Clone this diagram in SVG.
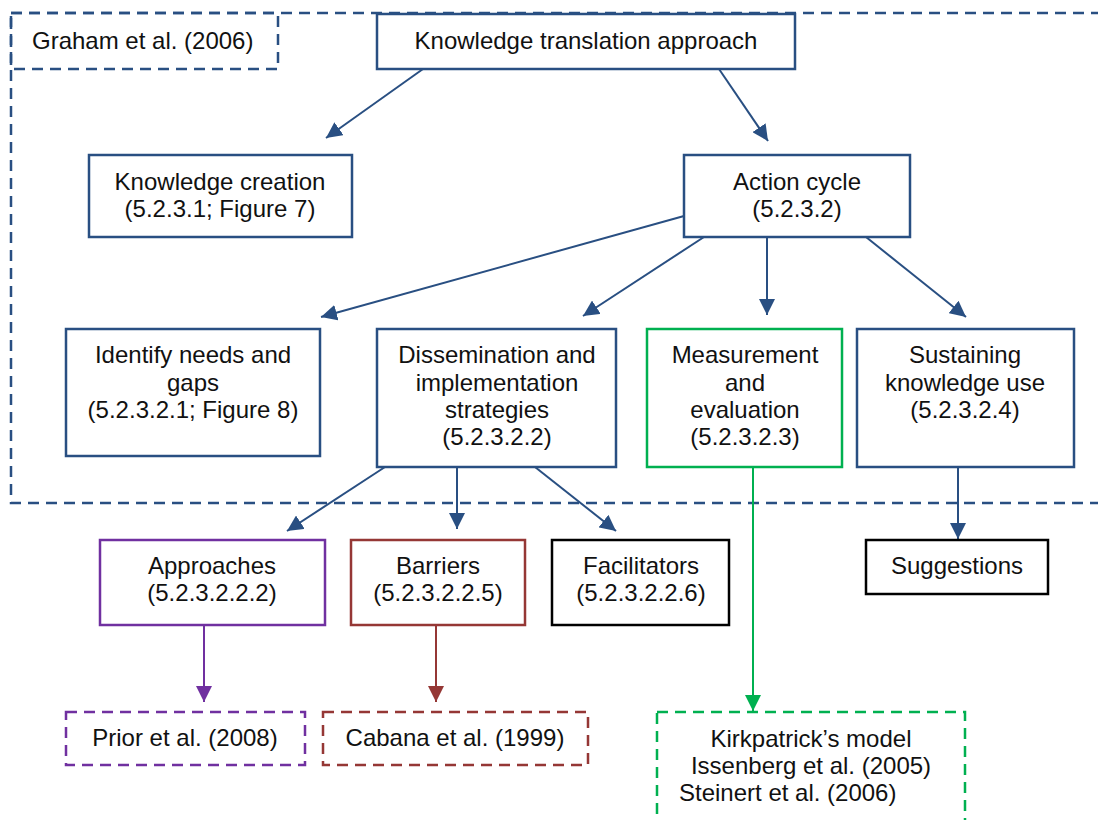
<svg xmlns="http://www.w3.org/2000/svg" width="1098" height="820" viewBox="0 0 1098 820">
<style>
text{font-family:"Liberation Sans",Arial,sans-serif;font-size:24px;fill:#111;text-anchor:middle}
.b{fill:#fff;stroke:#294F82;stroke-width:2.5}
.g{fill:#fff;stroke:#00B050;stroke-width:2.5}
.p{fill:#fff;stroke:#7030A0;stroke-width:2.5}
.r{fill:#fff;stroke:#953735;stroke-width:2.5}
.k{fill:#fff;stroke:#000;stroke-width:2.5}
.d{stroke-dasharray:11 7}
.cb{stroke:#294F82;stroke-width:2;fill:none;marker-end:url(#ab)}
.cg{stroke:#00B050;stroke-width:2;fill:none;marker-end:url(#ag)}
.cp{stroke:#7030A0;stroke-width:2;fill:none;marker-end:url(#ap)}
.cr{stroke:#953735;stroke-width:2;fill:none;marker-end:url(#ar)}
</style>
<defs>
<marker id="ab" markerUnits="userSpaceOnUse" markerWidth="18" markerHeight="16" refX="16" refY="8" orient="auto"><path d="M0,0 L16,8 L0,16 Z" fill="#294F82"/></marker>
<marker id="ag" markerUnits="userSpaceOnUse" markerWidth="18" markerHeight="16" refX="16" refY="8" orient="auto"><path d="M0,0 L16,8 L0,16 Z" fill="#00B050"/></marker>
<marker id="ap" markerUnits="userSpaceOnUse" markerWidth="18" markerHeight="16" refX="16" refY="8" orient="auto"><path d="M0,0 L16,8 L0,16 Z" fill="#7030A0"/></marker>
<marker id="ar" markerUnits="userSpaceOnUse" markerWidth="18" markerHeight="16" refX="16" refY="8" orient="auto"><path d="M0,0 L16,8 L0,16 Z" fill="#953735"/></marker>
</defs>
<rect width="1098" height="820" fill="#fff"/>
<g id="frame"><rect x="11" y="13" width="1110" height="490" fill="none" stroke="#294F82" stroke-width="2.5" class="d"/></g>
<g id="connectors">
<line class="cb" x1="423" y1="69" x2="326" y2="138"/>
<line class="cb" x1="719" y1="69" x2="768" y2="141"/>
<line class="cb" x1="684" y1="216" x2="321" y2="317"/>
<line class="cb" x1="704" y1="237" x2="583" y2="316"/>
<line class="cb" x1="767" y1="237" x2="767" y2="315"/>
<line class="cb" x1="866" y1="237" x2="966" y2="317"/>
<line class="cb" x1="385" y1="467" x2="287" y2="531"/>
<line class="cb" x1="457" y1="467" x2="457" y2="529"/>
<line class="cb" x1="535" y1="467" x2="616" y2="531"/>
<line class="cb" x1="958" y1="467" x2="958" y2="539"/>
<line class="cg" x1="753" y1="467" x2="753" y2="711"/>
<line class="cp" x1="204" y1="625" x2="204" y2="702"/>
<line class="cr" x1="436" y1="625" x2="436" y2="702"/>
</g>
<g id="graham"><rect x="11" y="13" width="267" height="56" fill="none" stroke="#294F82" stroke-width="2.5" class="d"/><text x="32" y="49" style="text-anchor:start">Graham et al. (2006)</text></g>
<g id="kt"><rect class="b" x="377" y="14" width="418" height="55"/><text x="586" y="49">Knowledge translation approach</text></g>
<g id="kc"><rect class="b" x="89" y="155" width="263" height="82"/><text x="220" y="190">Knowledge creation</text><text x="220" y="217">(5.2.3.1; Figure 7)</text></g>
<g id="ac"><rect class="b" x="684" y="155" width="226" height="82"/><text x="797" y="190">Action cycle</text><text x="797" y="217">(5.2.3.2)</text></g>
<g id="identify"><rect class="b" x="66" y="329" width="254" height="127"/><text x="193" y="363">Identify needs and</text><text x="193" y="391">gaps</text><text x="193" y="418">(5.2.3.2.1; Figure 8)</text></g>
<g id="diss"><rect class="b" x="377" y="329" width="239" height="138"/><text x="497" y="363">Dissemination and</text><text x="497" y="391">implementation</text><text x="497" y="418">strategies</text><text x="497" y="445">(5.2.3.2.2)</text></g>
<g id="meas"><rect class="g" x="647" y="329" width="195" height="138"/><text x="745" y="363">Measurement</text><text x="745" y="391">and</text><text x="745" y="418">evaluation</text><text x="745" y="445">(5.2.3.2.3)</text></g>
<g id="sust"><rect class="b" x="857" y="329" width="217" height="138"/><text x="965" y="363">Sustaining</text><text x="965" y="391">knowledge use</text><text x="965" y="418">(5.2.3.2.4)</text></g>
<g id="appr"><rect class="p" x="100" y="540" width="225" height="85"/><text x="212" y="574">Approaches</text><text x="212" y="601">(5.2.3.2.2.2)</text></g>
<g id="barr"><rect class="r" x="351" y="540" width="174" height="85"/><text x="438" y="574">Barriers</text><text x="438" y="601">(5.2.3.2.2.5)</text></g>
<g id="fac"><rect class="k" x="552" y="540" width="177" height="85"/><text x="641" y="574">Facilitators</text><text x="641" y="601">(5.2.3.2.2.6)</text></g>
<g id="sugg"><rect class="k" x="866" y="540" width="182" height="54"/><text x="957" y="574">Suggestions</text></g>
<g id="prior"><rect class="p d" x="66" y="712" width="239" height="53"/><text x="185" y="746">Prior et al. (2008)</text></g>
<g id="cabana"><rect class="r d" x="323" y="712" width="265" height="53"/><text x="455" y="746">Cabana et al. (1999)</text></g>
<g id="kirk"><rect class="g d" x="657" y="712" width="308" height="130"/><text x="811" y="747">Kirkpatrick’s model</text><text x="811" y="774">Issenberg et al. (2005)</text><text x="679" y="801" style="text-anchor:start">Steinert et al. (2006)</text></g>
</svg>
